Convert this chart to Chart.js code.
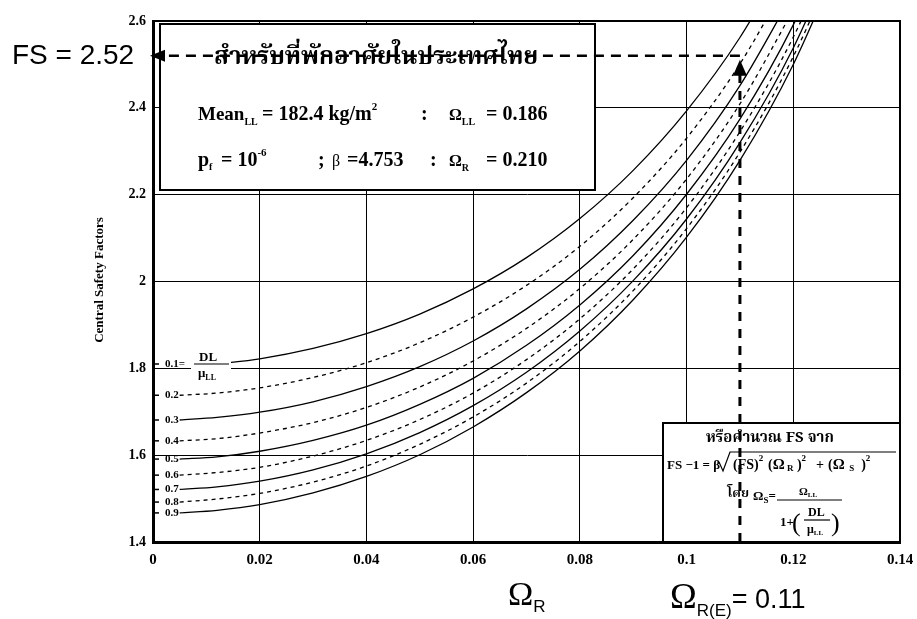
<!doctype html>
<html>
<head>
<meta charset="utf-8" />
<title>Central Safety Factors</title>
<script src="https://cdn.jsdelivr.net/npm/chart.js@4.4.0/dist/chart.umd.min.js"></script>
<style>
  html, body { margin: 0; padding: 0; background: #fff; }
  #wrap { width: 917px; height: 619px; }
</style>
</head>
<body>
<div id="wrap"><canvas id="fsChart"></canvas></div>
<script>
// Omega_R positions where each curve was read
var omegaR = [0.005, 0.012, 0.02, 0.03, 0.04, 0.05, 0.06, 0.07, 0.08, 0.09, 0.10, 0.11, 0.12, 0.13];
var dlRatios = ['0.1', '0.2', '0.3', '0.4', '0.5', '0.6', '0.7', '0.8', '0.9'];

// central safety factor for each DL/mu_LL ratio
var fs01 = [null, 1.810, 1.822, 1.846, 1.880, 1.925, 1.983, 2.055, 2.145, 2.256, 2.393, 2.562, 2.775, null];
var fs02 = [1.738, 1.743, 1.755, 1.779, 1.813, 1.859, 1.918, 1.991, 2.081, 2.193, 2.330, 2.501, 2.715, null];
var fs03 = [1.681, 1.687, 1.699, 1.723, 1.758, 1.804, 1.863, 1.937, 2.028, 2.141, 2.279, 2.451, 2.665, null];
var fs04 = [1.633, 1.638, 1.651, 1.675, 1.710, 1.757, 1.817, 1.892, 1.984, 2.097, 2.236, 2.409, 2.625, null];
var fs05 = [1.591, 1.596, 1.609, 1.634, 1.669, 1.717, 1.777, 1.853, 1.946, 2.060, 2.201, 2.374, 2.591, 2.867];
var fs06 = [1.554, 1.560, 1.572, 1.598, 1.634, 1.682, 1.743, 1.820, 1.914, 2.029, 2.170, 2.345, 2.563, 2.839];
var fs07 = [1.521, 1.527, 1.540, 1.566, 1.603, 1.652, 1.714, 1.791, 1.886, 2.002, 2.144, 2.320, 2.538, 2.816];
var fs08 = [1.492, 1.499, 1.512, 1.538, 1.575, 1.625, 1.688, 1.766, 1.862, 1.979, 2.122, 2.298, 2.518, 2.796];
var fs09 = [1.467, 1.473, 1.486, 1.513, 1.551, 1.601, 1.665, 1.744, 1.840, 1.958, 2.102, 2.279, 2.500, 2.779];

var xTickLabels = ['0', '0.02', '0.04', '0.06', '0.08', '0.1', '0.12', '0.14'];
var yTickLabels = ['1.4', '1.6', '1.8', '2', '2.2', '2.4', '2.6'];

// design point
var omegaRE = 0.11;
var fsRead = 2.52;

var serif = '"Liberation Serif", "Times New Roman", serif';
var sans = '"Liberation Sans", Arial, sans-serif';
var thai = '"Noto Serif Thai", "Noto Sans Thai", "Norasi", "Loma", "Garuda", "Tlwg Typo", "DejaVu Sans", sans-serif';

var curves = [fs01, fs02, fs03, fs04, fs05, fs06, fs07, fs08, fs09];
var datasets = curves.map(function (arr, i) {
    return {
        label: dlRatios[i],
        data: omegaR.map(function (x, j) { return { x: x, y: arr[j] }; }),
        borderColor: '#000',
        borderWidth: 1.3,
        borderDash: i % 2 === 1 ? [4, 4] : [],
        pointRadius: 0,
        fill: false,
        cubicInterpolationMode: 'monotone'
    };
});

// draws a row of [text, font, yShift] pieces left to right
function richText(ctx, parts, x, y) {
    var cx = x;
    parts.forEach(function (p) {
        ctx.font = p[1];
        ctx.fillText(p[0], cx, y + (p[2] || 0));
        cx += ctx.measureText(p[0]).width;
    });
    return cx;
}

var overlay = {
    id: 'overlay',
    afterDatasetsDraw: function (chart) {
        var ctx = chart.ctx, xs = chart.scales.x, ys = chart.scales.y, area = chart.chartArea;
        ctx.save();
        ctx.fillStyle = '#000';
        ctx.strokeStyle = '#000';
        ctx.textBaseline = 'alphabetic';
        ctx.textAlign = 'left';

        // frame on top and right
        ctx.lineWidth = 2;
        ctx.beginPath();
        ctx.moveTo(area.left, area.top); ctx.lineTo(area.right, area.top); ctx.lineTo(area.right, area.bottom);
        ctx.stroke();

        // curve labels at the y axis
        curves.forEach(function (arr, i) {
            var v = arr[0] !== null ? arr[0] : arr[1];
            var py = ys.getPixelForValue(v);
            ctx.lineWidth = 1.5;
            ctx.beginPath(); ctx.moveTo(area.left, py); ctx.lineTo(area.left + 6, py); ctx.stroke();
            ctx.font = 'bold 11px ' + serif;
            ctx.textBaseline = 'middle';
            if (i === 0) {
                ctx.fillStyle = '#fff';
                ctx.fillRect(area.left + 38, py - 18, 40, 32);
                ctx.fillStyle = '#000';
                ctx.fillText('0.1=', area.left + 12, py);
                ctx.textBaseline = 'alphabetic';
                ctx.beginPath(); ctx.lineWidth = 1.2;
                ctx.moveTo(area.left + 41, py); ctx.lineTo(area.left + 76, py); ctx.stroke();
                ctx.font = 'bold 13px ' + serif;
                ctx.fillText('DL', area.left + 46, py - 3);
                richText(ctx, [['\u03bc', 'bold 13px ' + serif], ['LL', 'bold 8px ' + serif, 3]], area.left + 45, py + 13);
            } else {
                ctx.fillText(dlRatios[i], area.left + 12, py);
            }
            ctx.textBaseline = 'alphabetic';
        });

        // info box, top left
        ctx.fillStyle = '#fff';
        ctx.fillRect(160, 24, 435, 166);
        ctx.lineWidth = 2;
        ctx.strokeRect(160, 24, 435, 166);
        ctx.fillStyle = '#000';

        // lower right box
        ctx.fillStyle = '#fff';
        ctx.fillRect(663, 423, area.right - 663, area.bottom - 423);
        ctx.strokeRect(663, 423, area.right - 663, area.bottom - 423);
        ctx.fillStyle = '#000';

        // guide lines to the design point
        var gx = xs.getPixelForValue(omegaRE), gy = ys.getPixelForValue(fsRead);
        ctx.setLineDash([10, 7]);
        ctx.lineWidth = 2.5;
        ctx.beginPath(); ctx.moveTo(gx, gy); ctx.lineTo(area.left + 12, gy); ctx.stroke();
        ctx.lineWidth = 3;
        ctx.setLineDash([9, 8]);
        ctx.beginPath(); ctx.moveTo(gx, area.bottom); ctx.lineTo(gx, gy + 16); ctx.stroke();
        ctx.setLineDash([]);
        ctx.beginPath(); ctx.moveTo(gx, gy + 4); ctx.lineTo(gx + 7, gy + 20); ctx.lineTo(gx - 7, gy + 20); ctx.closePath(); ctx.fill();
        ctx.beginPath(); ctx.moveTo(area.left - 3, gy); ctx.lineTo(area.left + 12, gy - 6); ctx.lineTo(area.left + 12, gy + 6); ctx.closePath(); ctx.fill();

        // info box text
        ctx.textBaseline = 'middle';
        ctx.font = 'bold 24px ' + thai;
        ctx.fillText('สำหรับที่พักอาศัยในประเทศไทย', 214, 60);
        ctx.textBaseline = 'alphabetic';
        var b = 'bold 20px ' + serif, s = 'bold 10px ' + serif, sup = 'bold 11px ' + serif;
        richText(ctx, [['Mean', 'bold 19px ' + serif], ['LL', s, 5]], 198, 120);
        richText(ctx, [['= 182.4 kg/m', b], ['2', sup, -10]], 262, 120);
        richText(ctx, [[':', b]], 421, 120);
        richText(ctx, [['\u03a9', 'bold 16px ' + serif], ['LL', s, 5]], 449, 120);
        richText(ctx, [['= 0.186', b]], 486, 120);
        richText(ctx, [['p', b], ['f', s, 4]], 198, 166);
        richText(ctx, [['= 10', b], ['-6', sup, -10]], 221, 166);
        richText(ctx, [[';', b]], 318, 166);
        richText(ctx, [['\u03b2', '16px ' + serif]], 332, 166);
        richText(ctx, [['=4.753', b]], 347, 166);
        richText(ctx, [[':', b]], 430, 166);
        richText(ctx, [['\u03a9', 'bold 16px ' + serif], ['R', s, 5]], 449, 166);
        richText(ctx, [['= 0.210', b]], 486, 166);

        // lower right box text
        ctx.textAlign = 'center';
        ctx.font = 'bold 15px ' + thai;
        ctx.fillText('หรือคำนวณ FS จาก', 770, 442);
        ctx.textAlign = 'left';
        var f = 'bold 14px ' + serif, om = 'bold 15px ' + serif, fs = 'bold 9px ' + serif;
        richText(ctx, [['FS \u22121 = \u03b2', 'bold 13px ' + serif]], 667, 469);
        ctx.lineWidth = 1.2;
        ctx.beginPath(); ctx.moveTo(719, 462); ctx.lineTo(723, 471); ctx.lineTo(730, 452); ctx.lineTo(896, 452); ctx.stroke();
        richText(ctx, [['(FS)', f], ['2', fs, -8]], 733, 469);
        richText(ctx, [['(', f], ['\u03a9', om], [' R', fs, 2], [' )', f], ['2', fs, -8]], 768, 469);
        richText(ctx, [['+', f]], 816, 469);
        richText(ctx, [['(', f], ['\u03a9', om], ['  S', fs, 2], ['  )', f], ['2', fs, -8]], 828, 469);
        ctx.font = 'bold 13px ' + thai;
        ctx.textAlign = 'right';
        ctx.fillText('โดย', 749, 497);
        ctx.textAlign = 'left';
        richText(ctx, [['\u03a9', 'bold 13px ' + serif], ['S', fs, 3], ['=', 'bold 13px ' + serif]], 753, 500);
        ctx.lineWidth = 1.2;
        ctx.beginPath(); ctx.moveTo(777, 500); ctx.lineTo(842, 500); ctx.stroke();
        richText(ctx, [['\u03a9', 'bold 11px ' + serif], ['LL', 'bold 7px ' + serif, 2]], 799, 495);
        richText(ctx, [['1+', 'bold 13px ' + serif]], 780, 526);
        ctx.font = '26px ' + serif;
        ctx.fillText('(', 792, 531);
        ctx.fillText(')', 831, 531);
        ctx.font = 'bold 12px ' + serif;
        ctx.fillText('DL', 808, 516);
        ctx.beginPath(); ctx.moveTo(804, 520); ctx.lineTo(830, 520); ctx.stroke();
        richText(ctx, [['\u03bc', 'bold 12px ' + serif], ['LL', 'bold 7px ' + serif, 2]], 807, 533);

        // left and bottom value call-outs
        ctx.font = '28px ' + sans;
        ctx.textBaseline = 'middle';
        ctx.fillText('FS = 2.52', 12, gy + 1);
        ctx.textBaseline = 'alphabetic';
        richText(ctx, [['\u03a9', '36px ' + serif], ['R(E)', '17px ' + sans, 8], ['= 0.11', '27px ' + sans]], 670, 608);

        // axis titles
        richText(ctx, [['\u03a9', '34px ' + serif], ['R', '17px ' + sans, 7]], 508, 605);
        ctx.save();
        ctx.translate(103, 280);
        ctx.rotate(-Math.PI / 2);
        ctx.textAlign = 'center';
        ctx.font = 'bold 13px ' + serif;
        ctx.fillText('Central Safety Factors', 0, 0);
        ctx.restore();

        ctx.restore();
    }
};

var ctx = document.getElementById('fsChart').getContext('2d');
var myChart = new Chart(ctx, {
    type: 'line',
    data: { datasets: datasets },
    options: {
        responsive: true,
        maintainAspectRatio: false,
        animation: false,
        layout: { padding: { top: 21, right: 17, left: 0, bottom: 0 } },
        plugins: { legend: { display: false }, tooltip: { enabled: false } },
        scales: {
            x: {
                type: 'linear',
                min: 0, max: 0.14,
                afterFit: function (scale) {
                    scale.height = 77;
                    scale.paddingLeft = 0;
                    scale.paddingRight = 0;
                },
                ticks: {
                    stepSize: 0.02,
                    color: '#000',
                    padding: 9,
                    maxRotation: 0,
                    font: { family: serif, size: 15, weight: 'bold' },
                    callback: function (v, i) { return xTickLabels[i]; }
                },
                grid: { color: '#000', lineWidth: 1, drawTicks: false },
                border: { color: '#000', width: 3 }
            },
            y: {
                type: 'linear',
                min: 1.4, max: 2.6,
                afterFit: function (scale) {
                    scale.width = 153;
                    scale.paddingTop = 0;
                    scale.paddingBottom = 0;
                },
                ticks: {
                    stepSize: 0.2,
                    color: '#000',
                    padding: 7,
                    font: { family: serif, size: 14, weight: 'bold' },
                    callback: function (v, i) { return yTickLabels[i]; }
                },
                grid: { color: '#000', lineWidth: 1, drawTicks: false },
                border: { color: '#000', width: 3 }
            }
        }
    },
    plugins: [overlay]
});
</script>
</body>
</html>
